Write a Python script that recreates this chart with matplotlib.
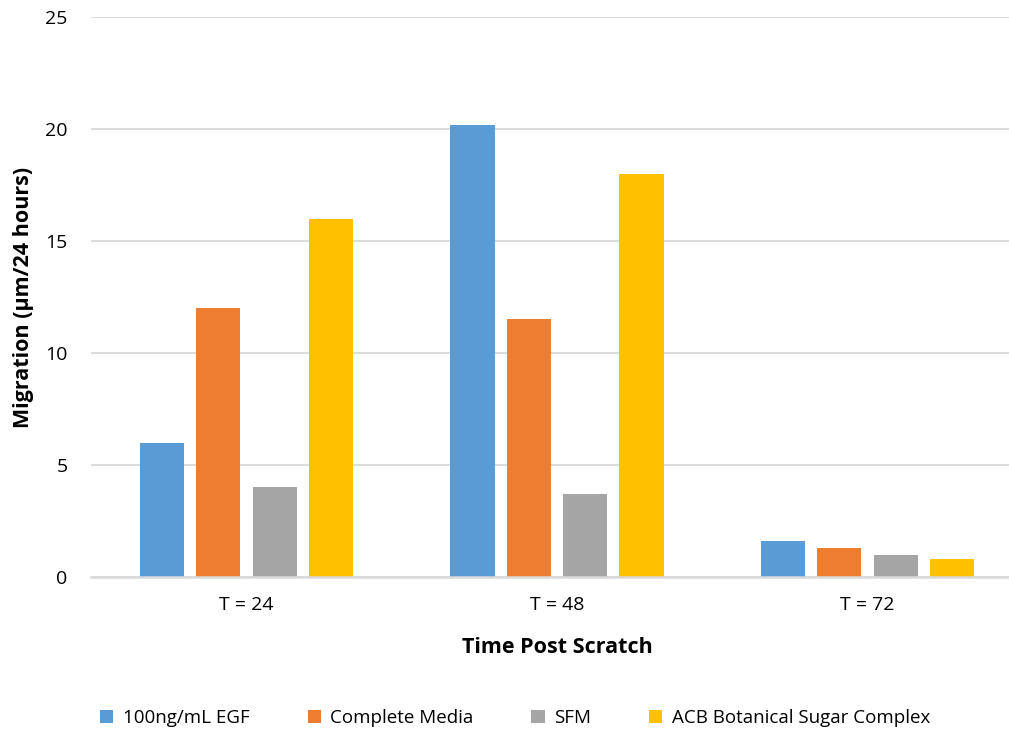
import matplotlib
matplotlib.use("Agg")
import matplotlib.pyplot as plt
import numpy as np

# Datos: migracion por tiempo tras el rayado
tiempos = ["T = 24", "T = 48", "T = 72"]
series = ["100ng/mL EGF", "Complete Media", "SFM", "ACB Botanical Sugar Complex"]
egf = [6.0, 20.2, 1.6]
complete_media = [12.0, 11.5, 1.3]
sfm = [4.0, 3.7, 1.0]
acb = [16.0, 18.0, 0.8]
colores = ["#5b9bd5", "#ed7d31", "#a5a5a5", "#ffc000"]

plt.rcParams["font.family"] = ["Open Sans", "DejaVu Sans"]

fig = plt.figure(figsize=(10.09, 7.31), dpi=100)
ax = fig.add_axes([91 / 1009, 154 / 731, 932 / 1009, 560 / 731])

x = np.arange(len(tiempos))
ancho = 0.142
desplaz = [-0.272, -0.091, 0.091, 0.272]
for valores, nombre, color, d in zip([egf, complete_media, sfm, acb], series, colores, desplaz):
    ax.bar(x + d, valores, width=ancho, color=color, label=nombre, zorder=3)

ax.set_xlim(-0.5, 2.5)
ax.set_ylim(0, 25)
ax.set_yticks(range(0, 26, 5))
ax.set_xticks(x)
ax.set_xticklabels(tiempos)
ax.tick_params(axis="both", length=0, labelsize=14, colors="#000000")
ax.tick_params(axis="y", pad=17)
ax.tick_params(axis="x", pad=14)

ax.grid(axis="y", color="#d9d9d9", linewidth=1.3, zorder=0)
for lado in ["top", "right", "left"]:
    ax.spines[lado].set_visible(False)
ax.spines["bottom"].set_color("#d9d9d9")
ax.spines["bottom"].set_linewidth(1.8)
ax.spines["bottom"].set_zorder(4)

ax.set_xlabel("Time Post Scratch", fontsize=15.5, fontweight="bold", labelpad=16)
ax.set_ylabel("Migration (µm/24 hours)", fontsize=15.5, fontweight="bold", labelpad=8)

fig.legend(loc="center", bbox_to_anchor=(515 / 1009, 13 / 731), ncol=4,
           frameon=False, handlelength=0.7, handleheight=0.7, handletextpad=0.5,
           columnspacing=3.1, prop={"size": 13.5})

fig.savefig("out.png", dpi=100)
plt.close(fig)
